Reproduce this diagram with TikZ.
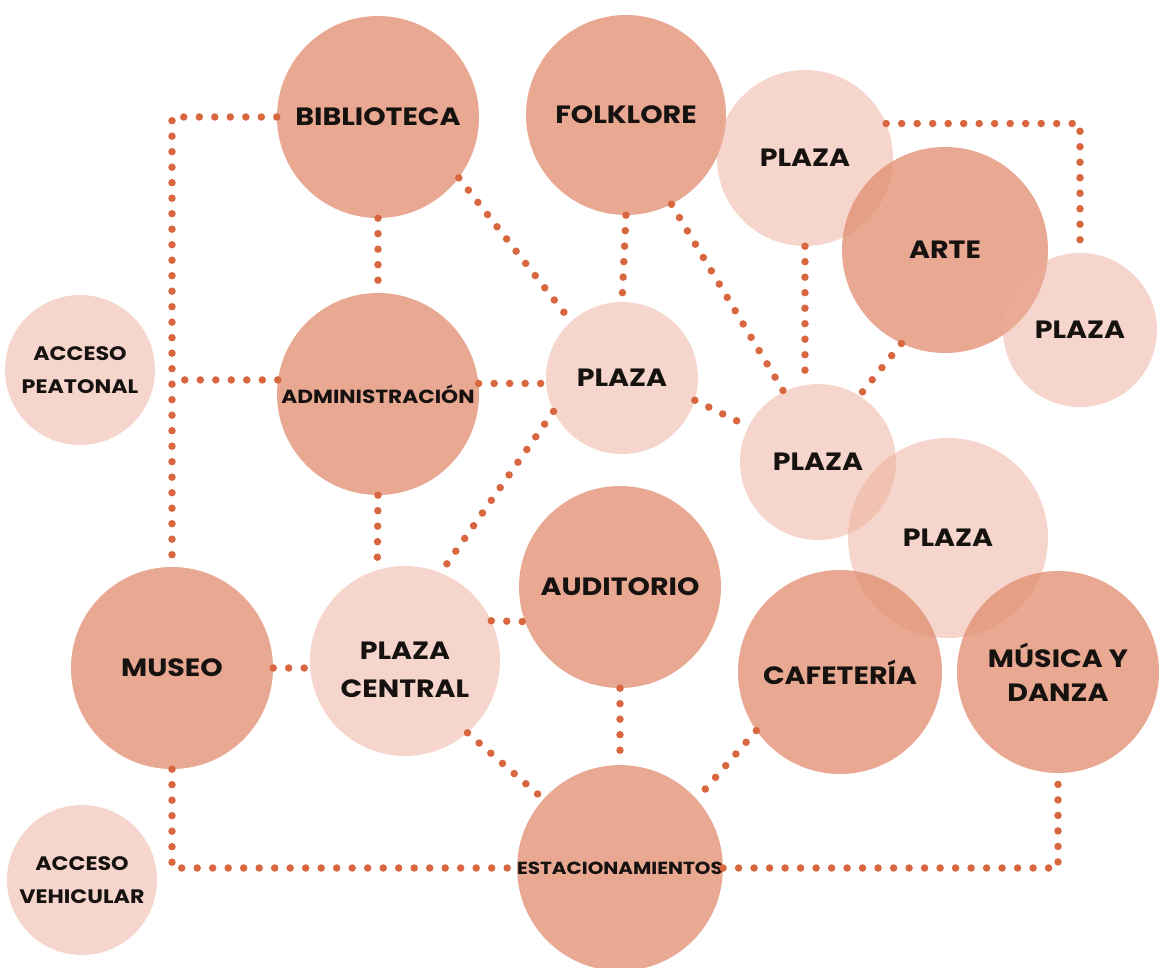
\documentclass[tikz,border=0pt]{standalone}
\usepackage{fontspec}
\setmainfont{Poppins}[FakeStretch=1.14]
\usetikzlibrary{calc}

\definecolor{dark}{RGB}{226,146,119}
\definecolor{light}{RGB}{237,173,153}
\definecolor{dotc}{RGB}{216,102,62}
\definecolor{ink}{RGB}{22,18,16}

\tikzset{
  room/.style={circle, fill=dark, fill opacity=0.8, text opacity=1, text=ink, inner sep=0pt, align=center,
    font=\bfseries\fontsize{25}{36}\selectfont},
  plaza/.style={circle, fill=light, fill opacity=0.5, text opacity=1, text=ink, inner sep=0pt, align=center,
    font=\bfseries\fontsize{25}{36}\selectfont},
  acc/.style={font=\bfseries\fontsize{19.5}{33}\selectfont},
  dots/.style={draw=dotc, line width=7.5pt, line cap=round, dash pattern=on 0pt off 15.5pt}
}

\begin{document}
\begin{tikzpicture}[x=1pt,y=-1pt]
  \useasboundingbox (0,0) rectangle (1160,968);

  % circles
  \node[room, minimum size=202pt] at (378,117) (bib) {BIBLIOTECA};
  \node[room, minimum size=200pt] at (626,115) (folk) {FOLKLORE};
  \node[plaza, minimum size=176pt] at (805,158) (plA) {PLAZA};
  \node[room, minimum size=206pt] at (945,250) (arte) {ARTE};
  \node[plaza, minimum size=154pt] at (1080,330) (plB) {PLAZA};
  \node[plaza, acc, minimum size=150pt] at (80,370) (peat) {ACCESO\\PEATONAL};
  \node[room, font=\bfseries\fontsize{19}{24}\selectfont, minimum size=202pt] at (378,394) (admin) {ADMINISTRACIÓN};
  \node[plaza, minimum size=152pt] at (622,378) (plC) {PLAZA};
  \node[plaza, minimum size=156pt] at (818,462) (plD) {PLAZA};
  \node[plaza, minimum size=200pt] at (948,538) (plE) {PLAZA};
  \node[room, minimum size=202pt] at (620,587) (audi) {AUDITORIO};
  \node[room, minimum size=202pt] at (172,668) (museo) {MUSEO};
  \node[plaza, minimum size=190pt,
    label={[font=\bfseries\fontsize{25}{38}\selectfont, text=ink, align=center, yshift=-9pt]center:PLAZA\\CENTRAL}]
    at (405,661) (central) {};
  \node[room, minimum size=204pt] at (840,672) (cafe) {CAFETERÍA};
  \node[room, font=\bfseries\fontsize{25}{34}\selectfont, minimum size=202pt] at (1058,672) (musica) {MÚSICA Y\\DANZA};
  \node[plaza, acc, minimum size=150pt] at (82,880) (vehi) {ACCESO\\VEHICULAR};
  \node[room, font=\bfseries\fontsize{17.5}{24}\selectfont, minimum size=202pt] at (620,868) (estac) {ESTACIONAMIENTOS};

  % links
  \draw[dots] (bib.west) -| (museo.north);
  \draw[dots] (admin.172) -- (admin.172 -| museo.north);
  \draw[dots] (admin.6) -- (plC.west |- admin.6);
  \draw[dots] (bib.south) -- (admin.north);
  \draw[dots] (bib.-37) -- (plC.132);
  \draw[dots] (admin.south) -- (central.107);
  \draw[dots] (plC.-154) -- (central.68);
  \draw[dots] (folk.south) -- (plC.north);
  \draw[dots] (folk.-63) -- (plD.116);
  \draw[dots] (plC.-17) -- (plD.153);
  \draw[dots] (plA.south) -- (plA.south |- plD.north);
  \draw[dots] (arte.-115) -- (plD.58);
  \draw[dots] (plA.23) -| (plB.north);
  \draw[dots] (central.25) -- (audi.200);
  \draw[dots] (museo.east) -- (museo.east -| central.west);
  \draw[dots] (central.-49) -- (estac.138);
  \draw[dots] (audi.south) -- (estac.north);
  \draw[dots] (cafe.215) -- (estac.42);
  \draw[dots] (museo.south) |- (estac.west);
  \draw[dots] (estac.east) -| (musica.south);
\end{tikzpicture}
\end{document}
